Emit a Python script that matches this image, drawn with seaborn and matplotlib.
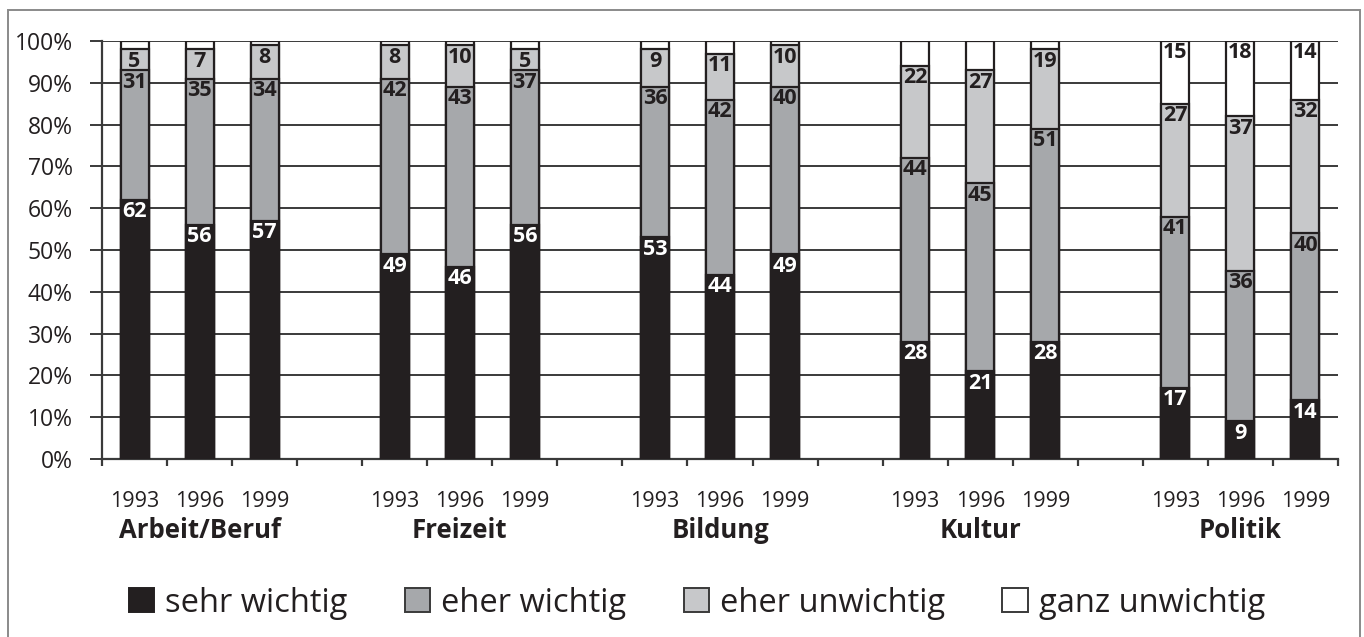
import numpy as np
import pandas as pd
import matplotlib
matplotlib.use('Agg')
import matplotlib.pyplot as plt
from matplotlib.patches import Patch, Rectangle
from matplotlib.transforms import blended_transform_factory
import seaborn as sns

# Data (percent), one entry per bar: 5 areas x 3 survey years
groups = ['Arbeit/Beruf', 'Freizeit', 'Bildung', 'Kultur', 'Politik']
years = ['1993', '1996', '1999']
sehr_wichtig = [62, 56, 57, 49, 46, 56, 53, 44, 49, 28, 21, 28, 17, 9, 14]
eher_wichtig = [31, 35, 34, 42, 43, 37, 36, 42, 40, 44, 45, 51, 41, 36, 40]
eher_unwichtig = [5, 7, 8, 8, 10, 5, 9, 11, 10, 22, 27, 19, 27, 37, 32]
ganz_unwichtig = [2, 2, 1, 1, 1, 2, 2, 3, 1, 6, 7, 2, 15, 18, 14]
series_names = ['sehr wichtig', 'eher wichtig', 'eher unwichtig', 'ganz unwichtig']
colors = ['#231f20', '#a6a8ab', '#c7c8ca', '#ffffff']
edge = '#231f20'

# Build table with a key per bar and spacer slots between the groups
keys = [f'{g} {y}' for g in groups for y in years]
order = []
for i, g in enumerate(groups):
    order += [f'{g} {y}' for y in years]
    if i < len(groups) - 1:
        order.append(f'gap{i}')

df = pd.DataFrame({'key': keys, 's1': sehr_wichtig, 's2': eher_wichtig,
                   's3': eher_unwichtig, 's4': ganz_unwichtig})
df['c1'] = df['s1']
df['c2'] = df['c1'] + df['s2']
df['c3'] = df['c2'] + df['s3']
df['c4'] = df['c3'] + df['s4']

plt.rcParams['font.family'] = ['Open Sans', 'DejaVu Sans']
fig = plt.figure(figsize=(13.64, 6.37), dpi=100)
ax = fig.add_axes([102 / 1364, 1 - 459 / 637, (1338 - 102) / 1364, 418 / 637])

# Stacked bars: draw cumulative totals from the top layer down
for k in [4, 3, 2, 1]:
    sns.barplot(data=df, x='key', y=f'c{k}', order=order, color=colors[k - 1],
                saturation=1, errorbar=None, width=0.43, edgecolor=edge,
                linewidth=1.6, ax=ax, zorder=3)

# Value labels at the top of each segment
pos = {key: order.index(key) for key in keys}
for _, r in df.iterrows():
    x = pos[r['key']]
    for k in [1, 2, 3, 4]:
        v = r[f's{k}']
        if k == 4 and v < 10:
            continue
        ax.annotate(str(v), (x, r[f'c{k}']), xytext=(0, -1), textcoords='offset points',
                    ha='center', va='top', fontsize=15.5, fontweight='bold',
                    color='white' if k == 1 else '#231f20', zorder=5)

ax.set_xlim(-0.5, len(order) - 0.5)
ax.set_ylim(0, 100)
ax.set_yticks(np.arange(0, 101, 10))
ax.set_yticklabels([f'{v}%' for v in range(0, 101, 10)])
ax.yaxis.grid(True, color='#3a3a3a', linewidth=1.4)
ax.set_axisbelow(True)
ax.tick_params(axis='y', length=9, width=1.4, color='#3a3a3a', pad=12,
               labelsize=16.5, labelcolor='#231f20')

# Year labels at bar centres, tick marks at slot boundaries
centres = [pos[k] for k in keys]
ax.set_xticks(centres)
ax.set_xticklabels(years * len(groups))
ax.set_xticks(np.arange(-0.5, len(order), 1), minor=True)
ax.tick_params(axis='x', which='major', length=0, pad=23, labelsize=15.5,
               labelcolor='#231f20')
ax.tick_params(axis='x', which='minor', length=5, width=1.6, color='#3a3a3a')
ax.set_xlabel('')
ax.set_ylabel('')

for s in ['top', 'right']:
    ax.spines[s].set_visible(False)
for s in ['left', 'bottom']:
    ax.spines[s].set_color('#3a3a3a')
    ax.spines[s].set_linewidth(1.6)

# Group labels
trans = blended_transform_factory(ax.transData, ax.transAxes)
for i, g in enumerate(groups):
    ax.text(pos[f'{g} 1996'], -0.17, g, transform=trans, ha='center', va='center',
            fontsize=18.5, fontweight='bold', color='#231f20')

# Legend
handles = [Patch(facecolor=c, edgecolor=edge if i == 0 else '#3a3a3a', linewidth=1.4)
           for i, c in enumerate(colors)]
fig.legend(handles, series_names, loc='center', bbox_to_anchor=(0.511, 1 - 603 / 637),
           ncol=4, frameon=False, fontsize=23.5, handlelength=0.78, handleheight=0.78,
           handletextpad=0.34, columnspacing=1.75, labelcolor='#231f20')

# Outer frame
fig.patches.append(Rectangle((8 / 1364, -0.05), 1352 / 1364, 1.05 - 10 / 637,
                             transform=fig.transFigure, fill=False,
                             edgecolor='#8a8a8a', linewidth=1.4))

fig.savefig('out.png', dpi=100)
